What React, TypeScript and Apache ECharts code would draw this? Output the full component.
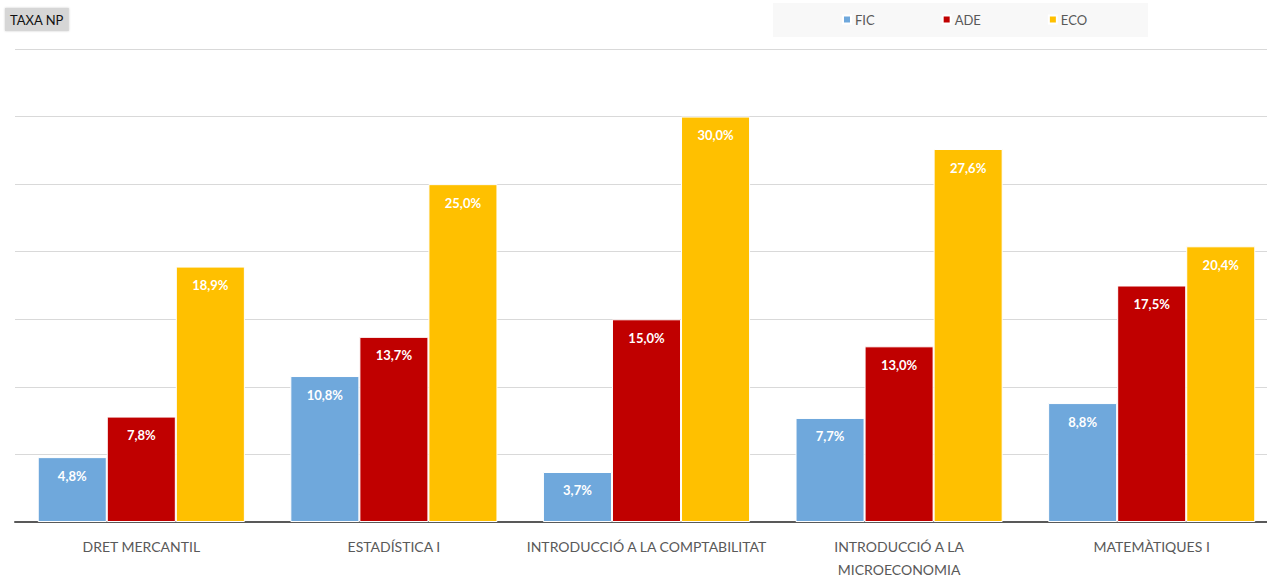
import React, { useEffect, useRef } from "react";
import * as echarts from "echarts";

const categories = [
  "DRET MERCANTIL",
  "ESTADÍSTICA I",
  "INTRODUCCIÓ A LA COMPTABILITAT",
  "INTRODUCCIÓ A LA\nMICROECONOMIA",
  "MATEMÀTIQUES I",
];
const seriesNames = ["FIC", "ADE", "ECO"];
const ficValues = [4.8, 10.8, 3.7, 7.7, 8.8];
const adeValues = [7.8, 13.7, 15.0, 13.0, 17.5];
const ecoValues = [18.9, 25.0, 30.0, 27.6, 20.4];
const colors = ["#6fa8dc", "#c00000", "#ffc000"];

const FONT = "Lato, 'Liberation Sans', sans-serif";

export default function App() {
  const ref = useRef<HTMLDivElement>(null);
  useEffect(() => {
    if (!ref.current) return;
    const chart = echarts.init(ref.current, undefined, { renderer: "svg" });
    const values = [ficValues, adeValues, ecoValues];
    chart.setOption({
      animation: false,
      textStyle: { fontFamily: FONT },
      title: {
        text: "TAXA NP",
        left: 5,
        top: 8,
        padding: [5, 5, 5, 5],
        backgroundColor: "#d6d6d6",
        shadowColor: "rgba(0,0,0,0.2)",
        shadowBlur: 2,
        textStyle: { fontFamily: FONT, fontSize: 13, fontWeight: "normal", color: "#111" },
      },
      graphic: [
        {
          type: "rect",
          shape: { x: 773, y: 3, width: 375, height: 34 },
          style: { fill: "#f8f8f8" },
          z: -1,
        },
      ],
      legend: {
        data: seriesNames,
        left: 842,
        top: 13,
        padding: 0,
        itemWidth: 8,
        itemHeight: 8,
        itemGap: 67,
        icon: "rect",
        textStyle: { fontFamily: FONT, fontSize: 13, color: "#595959", padding: [0, 0, 0, -1] },
      },
      grid: {
        left: 15,
        right: -11,
        top: 49,
        bottom: 56,
        containLabel: false,
        outerBoundsMode: "none",
      },
      xAxis: {
        type: "category",
        data: categories,
        axisLine: { lineStyle: { color: "#595959", width: 2 } },
        axisTick: { show: false },
        axisLabel: {
          color: "#595959",
          fontFamily: FONT,
          fontSize: 14,
          margin: 13,
          lineHeight: 23,
          interval: 0,
        },
      },
      yAxis: {
        type: "value",
        min: 0,
        max: 35,
        interval: 5,
        axisLabel: { show: false },
        axisLine: { show: false },
        axisTick: { show: false },
        splitLine: { lineStyle: { color: "#d9d9d9", width: 1 } },
      },
      series: seriesNames.map((name, i) => ({
        name,
        type: "bar",
        data: values[i],
        barGap: "0%",
        barCategoryGap: "18%",
        itemStyle: { color: colors[i], borderColor: "#ffffff", borderWidth: 1 },
        label: {
          show: true,
          position: "insideTop",
          distance: 12,
          color: "#ffffff",
          fontFamily: FONT,
          fontSize: 13,
          fontWeight: "bold",
          formatter: (p: any) => p.value.toFixed(1).replace(".", ",") + "%",
        },
      })),
    });
    return () => chart.dispose();
  }, []);
  return (
    <div
      ref={ref}
      style={{ position: "fixed", left: 0, top: 0, width: 1267, height: 578, background: "#fff" }}
    />
  );
}
